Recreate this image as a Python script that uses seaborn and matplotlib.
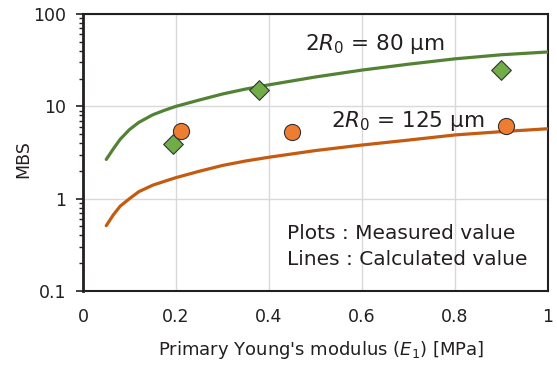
import numpy as np
import pandas as pd
import matplotlib
matplotlib.use("Agg")
import matplotlib.pyplot as plt
import seaborn as sns
from matplotlib.ticker import LogLocator, NullFormatter, FixedLocator

# ---- data ----
E_calc = [0.05, 0.065, 0.08, 0.10, 0.12, 0.15, 0.175, 0.2, 0.25, 0.3, 0.35,
          0.4, 0.5, 0.6, 0.7, 0.8, 0.9, 1.0]
mbs_calc_80 = [2.66, 3.45, 4.4, 5.6, 6.7, 8.1, 9.05, 10.0, 11.7, 13.6, 15.4,
               17.1, 20.8, 24.7, 28.6, 32.7, 36.2, 38.8]
mbs_calc_125 = [0.51, 0.665, 0.83, 1.0, 1.19, 1.40, 1.54, 1.69, 1.98, 2.29, 2.56,
                2.81, 3.32, 3.81, 4.31, 4.9, 5.32, 5.72]

E_meas_80 = [0.194, 0.378, 0.899]
mbs_meas_80 = [3.9, 15.0, 24.5]
E_meas_125 = [0.21, 0.449, 0.91]
mbs_meas_125 = [5.45, 5.3, 6.2]

x_ticks = [0, 0.2, 0.4, 0.6, 0.8, 1.0]
x_ticklabels = ["0", "0.2", "0.4", "0.6", "0.8", "1"]
y_ticks = [0.1, 1, 10, 100]
y_ticklabels = ["0.1", "1", "10", "100"]

label_80 = r"2$R_\mathit{0}$ = 80 μm"
label_125 = r"2$R_\mathit{0}$ = 125 μm"
note_lines = ["Plots : Measured value", "Lines : Calculated value"]
x_label = r"Primary Young's modulus ($E_\mathit{1}$) [MPa]"
y_label = "MBS"

# ---- style ----
sns.set_theme(style="white")
plt.rcParams["font.family"] = ["DejaVu Sans"]
plt.rcParams["mathtext.fontset"] = "dejavusans"

GREEN_LINE = "#548235"
GREEN_MARK = "#70AD47"
ORANGE_LINE = "#C55A11"
ORANGE_MARK = "#ED7D31"
DARK = "#231F20"
TEXT = "#231F20"

calc_df = pd.DataFrame({"E": E_calc + E_calc,
                        "MBS": mbs_calc_80 + mbs_calc_125,
                        "series": ["80"] * len(E_calc) + ["125"] * len(E_calc)})

fig = plt.figure(figsize=(5.57, 3.65), dpi=100)
ax = fig.add_axes([83 / 557, 1 - 291 / 365, (548 - 83) / 557, (291 - 14) / 365])

sns.lineplot(data=calc_df, x="E", y="MBS", hue="series",
             palette={"80": GREEN_LINE, "125": ORANGE_LINE},
             linewidth=2.3, legend=False, ax=ax, zorder=3)

sns.scatterplot(x=E_meas_80, y=mbs_meas_80, marker="D", s=100,
                color=GREEN_MARK, edgecolor="#333333", linewidth=0.8,
                ax=ax, zorder=4)
sns.scatterplot(x=E_meas_125, y=mbs_meas_125, marker="o", s=135,
                color=ORANGE_MARK, edgecolor="#333333", linewidth=0.8,
                ax=ax, zorder=4)

ax.set_yscale("log")
ax.set_xlim(0, 1)
ax.set_ylim(0.1, 100)

ax.xaxis.set_major_locator(FixedLocator(x_ticks))
ax.set_xticklabels(x_ticklabels)
ax.yaxis.set_major_locator(FixedLocator(y_ticks))
ax.set_yticklabels(y_ticklabels)
ax.yaxis.set_minor_locator(LogLocator(base=10, subs=np.arange(2, 10)))
ax.yaxis.set_minor_formatter(NullFormatter())

ax.tick_params(axis="x", which="both", length=0, pad=12, labelsize=12.5, colors=TEXT)
ax.tick_params(axis="y", which="major", length=5, width=1.2, direction="out",
               pad=7, labelsize=12.5, colors=TEXT, left=True)
ax.tick_params(axis="y", which="minor", length=3, width=1.0, direction="out",
               color=DARK, left=True)
ax.tick_params(axis="y", which="major", color=DARK)

ax.grid(True, which="major", color="#D9D9D9", linewidth=1.0, zorder=0)
ax.set_axisbelow(True)

for side, sp in ax.spines.items():
    sp.set_visible(True)
    sp.set_color(DARK)
    sp.set_linewidth(1.5)
ax.spines["left"].set_linewidth(2.0)

ax.set_xlabel(x_label, fontsize=13, color=TEXT)
ax.set_ylabel(y_label, fontsize=12.5, color=TEXT)
ax.xaxis.set_label_coords(0.513, -0.175)
ax.yaxis.set_label_coords(-0.11, 0.477)

ax.text(0.628, 47, label_80, fontsize=15.5, color=TEXT, ha="center", va="center", zorder=5)
ax.text(0.698, 7.0, label_125, fontsize=15.5, color=TEXT, ha="center", va="center", zorder=5)

ax.text(0.439, 0.209, note_lines[0], transform=ax.transAxes, fontsize=14.5,
        color=TEXT, ha="left", va="center")
ax.text(0.439, 0.112, note_lines[1], transform=ax.transAxes, fontsize=14.5,
        color=TEXT, ha="left", va="center")

fig.savefig("out.png", dpi=100, facecolor="white")
